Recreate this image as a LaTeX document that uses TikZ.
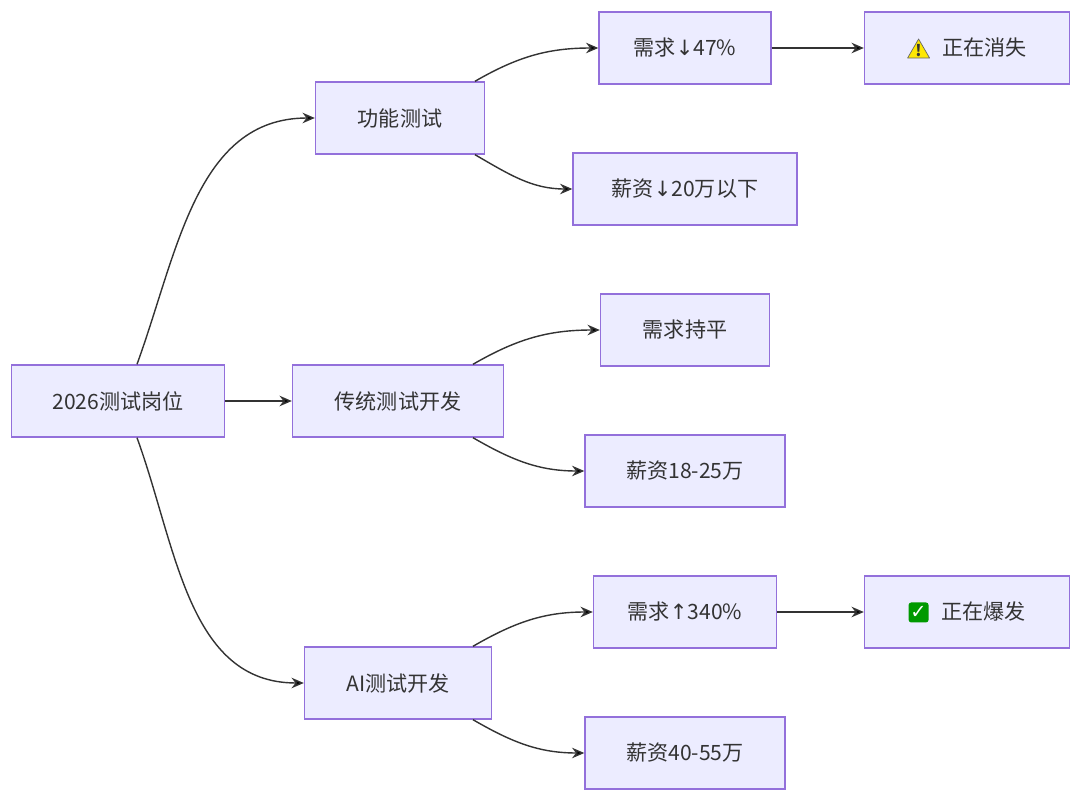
\documentclass[tikz,border=0pt]{standalone}
\usepackage{fontspec}
\setmainfont{Noto Sans CJK SC}
\newfontfamily\symfont{DejaVu Sans}
\usetikzlibrary{arrows.meta,positioning}
\definecolor{boxfill}{HTML}{ECECFF}
\definecolor{boxline}{HTML}{9370DB}
\definecolor{wire}{HTML}{333333}
\tikzset{plain/.style={draw=none, fill=none, minimum width=0pt, minimum height=0pt, inner sep=0pt}}
\newcommand{\warnicon}{\tikz[baseline=-0.6ex, x=1cm, y=1cm]{\fill[yellow!90!orange, draw=black!60, line join=round] (0,0.19) -- (0.22,-0.19) -- (-0.22,-0.19) -- cycle; \node[plain, font=\fontsize{9}{9}\selectfont\bfseries] at (0,-0.05) {!};}}
\newcommand{\okicon}{\tikz[baseline=-0.6ex, x=1cm, y=1cm]{\fill[green!60!black, rounded corners=1.5pt] (-0.2,-0.2) rectangle (0.2,0.2); \node[plain, text=white, font=\symfont\fontsize{11}{11}\selectfont] at (0,0) {✓};}}
\begin{document}
\begin{tikzpicture}[x=0.02cm,y=-0.02cm,
		box/.style={draw=boxline, fill=boxfill, line width=0.8pt, minimum height=1.44cm, font=\fontsize{12}{14}\selectfont, text=wire},
		link/.style={draw=wire, line width=0.8pt, -{Stealth[length=7pt,width=6pt]}}]
		% bounding box
		\useasboundingbox (0,0) rectangle (1080,801);
		% Nodes:
		\node[box, minimum width=4.26cm] (root) at (118,401) {2026测试岗位};
		\node[box, minimum width=3.38cm] (func) at (400,118) {功能测试};
		\node[box, minimum width=4.22cm] (trad) at (398,401) {传统测试开发};
		\node[box, minimum width=3.74cm] (ai) at (398,683) {AI测试开发};
		\node[box, minimum width=3.44cm] (fneed) at (685,48) {需求{\symfont ↓}47\%};
		\node[box, minimum width=4.10cm] (fgone) at (967,48) {\warnicon\hspace{0.25cm}正在消失};
		\node[box, minimum width=4.48cm] (fpay) at (685,189) {薪资{\symfont ↓}20万以下};
		\node[box, minimum width=3.38cm] (tneed) at (685,330) {需求持平};
		\node[box, minimum width=4.00cm] (tpay) at (685,471) {薪资18-25万};
		\node[box, minimum width=3.66cm] (aneed) at (685,612) {需求{\symfont ↑}340\%};
		\node[box, minimum width=4.10cm] (aboom) at (967,612) {\okicon\hspace{0.25cm}正在爆发};
		\node[box, minimum width=4.00cm] (apay) at (685,753) {薪资40-55万};
		% Connectors:
		\draw[link] ([xshift=0.38cm]root.north) to[out=70, in=180] (func.west);
		\draw[link] (root.east) -- (trad.west);
		\draw[link] ([xshift=0.38cm]root.south) to[out=-70, in=180] (ai.west);
		\draw[link] ([xshift=1.5cm]func.north) to[out=30, in=180] (fneed.west);
		\draw[link] ([xshift=1.5cm]func.south) to[out=-30, in=180] (fpay.west);
		\draw[link] ([xshift=1.5cm]trad.north) to[out=30, in=180] (tneed.west);
		\draw[link] ([xshift=1.5cm]trad.south) to[out=-30, in=180] (tpay.west);
		\draw[link] ([xshift=1.5cm]ai.north) to[out=30, in=180] (aneed.west);
		\draw[link] ([xshift=1.5cm]ai.south) to[out=-30, in=180] (apay.west);
		\draw[link] (fneed.east) -- (fgone.west);
		\draw[link] (aneed.east) -- (aboom.west);
	\end{tikzpicture}
\end{document}
